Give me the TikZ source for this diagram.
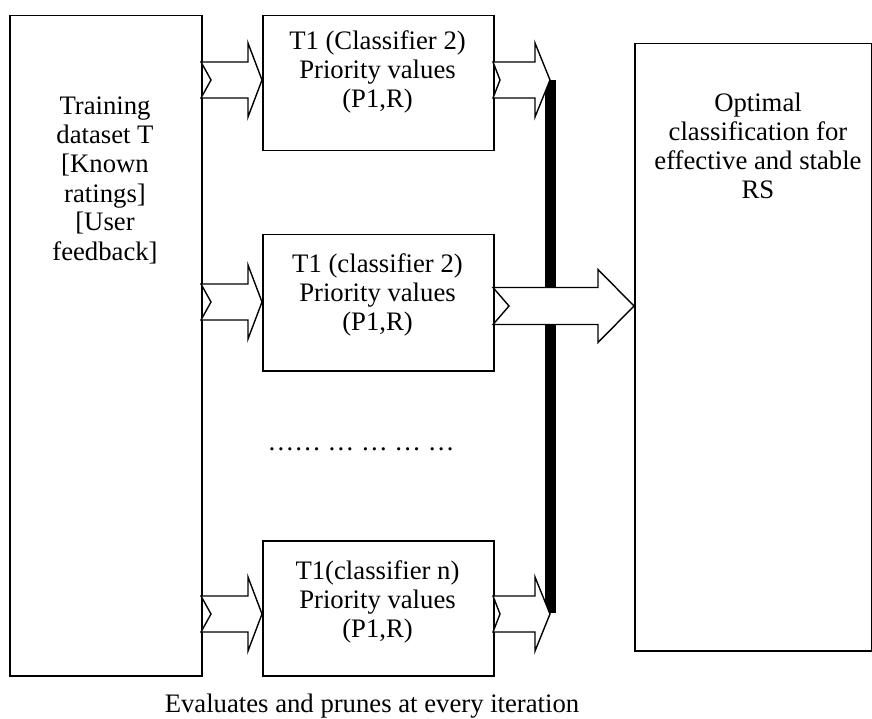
\documentclass[tikz,border=0pt]{standalone}
\usepackage{fontspec}
\setmainfont{Liberation Serif}
\newcommand\notcharrow[8]{% name, tail x, tip x, centre y, shaft half, head half, head length, notch
  \filldraw[blk] (#2,#4-#5) -- (#3-#7,#4-#5) -- (#3-#7,#4-#6) -- (#3,#4)
    coordinate (#1) -- (#3-#7,#4+#6) -- (#3-#7,#4+#5) -- (#2,#4+#5) -- (#2+#8,#4) -- cycle;}
\begin{document}
\begin{tikzpicture}[x=1pt,y=-1pt,line join=miter,
  box/.style={draw,line width=1.5pt,fill=white,inner sep=0pt,anchor=north west},
  blk/.style={draw,line width=1.4pt,fill=white},
  txt/.style={font=\fontsize{26.7}{29}\selectfont,align=center,inner sep=0pt,anchor=base}]
\useasboundingbox (0,0) rectangle (872,719);

% boxes
\node[box,minimum width=192pt,minimum height=660pt] (train) at (9,15) {};
\node[box,minimum width=231pt,minimum height=135pt] (c1) at (262,15) {};
\node[box,minimum width=231pt,minimum height=136pt] (c2) at (262,234) {};
\node[box,minimum width=231pt,minimum height=135pt] (c3) at (262,540) {};
\node[box,minimum width=237pt,minimum height=607pt] (opt) at (634,43) {};

% thick bar
\fill (545,80) rectangle (556,613);

% arrows from training set
\notcharrow{a1}{201}{262}{80}{18}{37}{14}{10}
\notcharrow{a2}{201}{262}{302}{18}{37}{14}{10}
\notcharrow{a3}{201}{262}{614}{18}{37}{14}{10}
% arrows to the bar
\notcharrow{b1}{493}{550}{80}{18}{37}{15}{7}
\notcharrow{b3}{493}{550}{614}{18}{37}{15}{7}
% big arrow
\notcharrow{b2}{493}{634}{306}{18.5}{36.5}{36}{16}

% texts (anchor = baseline of the last line)
\node[txt] (ttrain) at (105,260) {Training\\dataset T\\{[}Known\\ratings]\\{[}User\\feedback]};
\node[txt] (t1) at (377.5,108) {T1 (Classifier 2)\\Priority values\\(P1,R)};
\node[txt] (t2) at (377.5,330) {T1 (classifier 2)\\Priority values\\(P1,R)};
\node[txt] (t3) at (377.5,637) {T1(classifier n)\\Priority values\\(P1,R)};
\node[txt] (topt) at (758,199) {Optimal\\classification for\\effective and stable\\RS};
\node[txt] (dots) at (361,450) {…… … … … …};
\node[txt] (eval) at (372,712) {Evaluates and prunes at every iteration};
\end{tikzpicture}
\end{document}
